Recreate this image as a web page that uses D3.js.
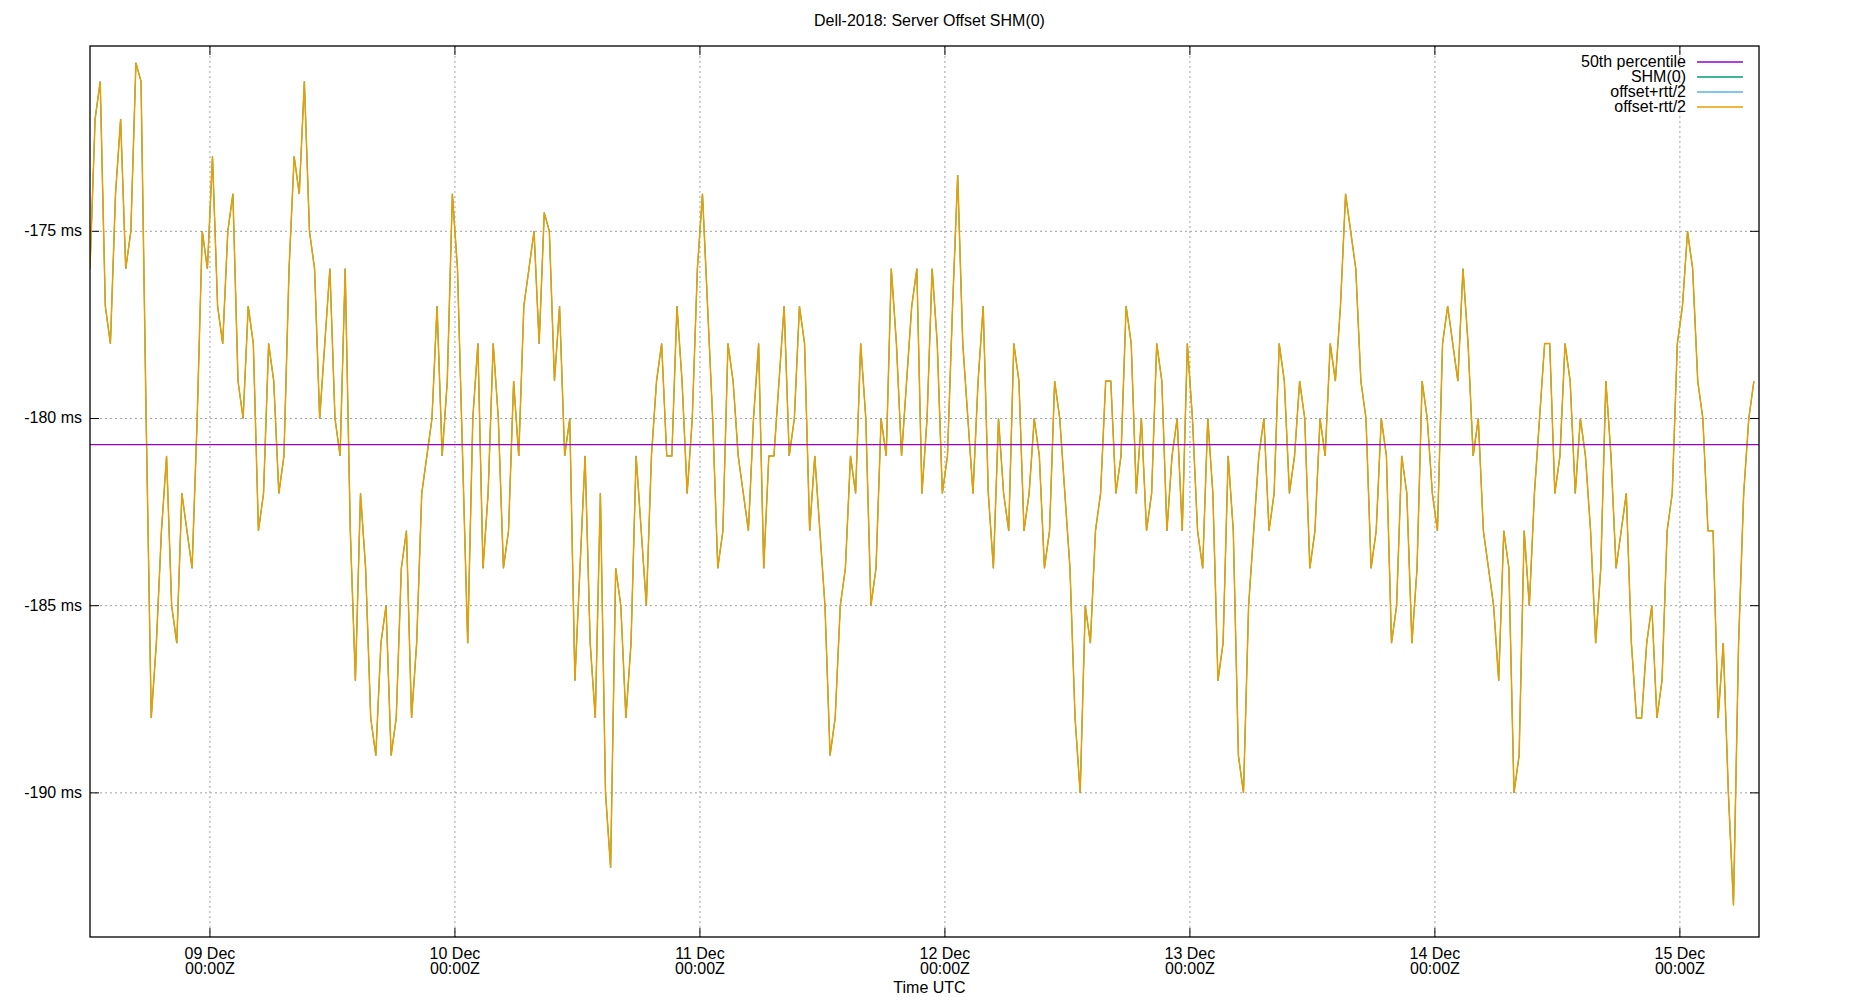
<!DOCTYPE html>
<html><head><meta charset="utf-8">
<script src="https://d3js.org/d3.v7.min.js"></script>
<style>body{margin:0;background:#fff}svg{font-family:"Liberation Sans",Arial,sans-serif}</style>
</head><body><svg id="c" width="1850" height="1000"></svg>
<script>
const title = "Dell-2018: Server Offset SHM(0)";
const startTime = "2018-12-08T12:15:00Z";
const stepMinutes = 60;
// values on the hour
const offsetValues = [
-176,-171,-178,-172,-175,-171,-188,-183,-185,-182,-184,-175,-173,-178,-174,
-180,-178,-182,-179,-181,-173,-171,-176,-178,-180,-176,-187,-184,-189,-185,-188,
-183,-186,-181,-177,-179,-176,-186,-178,-182,-180,-183,-181,-176,-178,-175,-177,-180,
-184,-186,-182,-192,-185,-186,-183,-181,-178,-181,-179,-180,-174,
-180,-183,-179,-182,-180,-184,-181,-177,-180,-178,-181,-185,-188,-184,
-182,-180,-184,-181,-178,-179,-176,-180,-178,-181,-173.5,-180,-179,-182,
-180,-183,-179,-182,-181,-183,-180,-184,-190,-186,-182,
-179,-181,-178,-180,-182,-179,-181,-183,-180,-184,-182,-186,-183,-190,-183,
-180,-182,-179,-181,-180,-183,-181,-179,-174,-176,-180,
-183,-181,-185,-182,-184,-180,-183,-177,-179,-178,-180,-184,
-187,-184,-189,-185,-180,-178,-181,-179,-180,-183,-184,-181,-183,-186,-188,
-185,-187,-182,-177,-176,-180,-183,-186,-193,-182,-179];
// values on the half hour
const halfHourValues = [
-172,-177,-174,-176,-170.5,-180,-186,-181,-186,-183,-180,-176,-177,-175,-179,
-177,-183,-178,-182,-176,-174,-175,-180,-176,-181,-183,-182,-188,-186,-189,-184,
-188,-182,-180,-181,-174,-181,-180,-184,-178,-184,-179,-177,-175,-174.5,-179,-181,-187,
-181,-188,-190,-184,-188,-181,-185,-179,-181,-177,-182,-176,-177,
-184,-178,-181,-183,-178,-181,-179,-181,-177,-183,-183,-189,-185,-181,
-178,-185,-180,-176,-181,-177,-182,-176,-182,-177,-178,-182,-177,-184,
-182,-178,-183,-180,-184,-179,-182,-188,-185,-183,-179,
-182,-177,-182,-183,-178,-183,-180,-178,-183,-180,-187,-181,-189,-185,-181,
-183,-178,-182,-179,-184,-180,-178,-177,-175,-179,-184,
-180,-186,-181,-186,-179,-182,-178,-178,-176,-181,-183,-185,
-183,-190,-183,-182,-178,-182,-178,-182,-181,-186,-179,-184,-182,-188,-186,
-188,-183,-178,-175,-179,-183,-188,-190,-186,-180];
const median = -180.7;
const xDomain = ["2018-12-08T12:15:00Z","2018-12-15T07:45:00Z"];
const yDomain = [-193.85,-170.05];
const yTicks = [-175,-180,-185,-190];
const xTicks = ["2018-12-09","2018-12-10","2018-12-11","2018-12-12","2018-12-13","2018-12-14","2018-12-15"];
const legendNames = ["50th percentile","SHM(0)","offset+rtt/2","offset-rtt/2"];
const colors = ["#9400d3","#009e73","#56b4e9","#e69f00"];

const L=90,R=1759,T=46,B=937,FS=16;
const svg=d3.select("#c");
const x=d3.scaleUtc().domain(xDomain.map(d=>new Date(d))).range([L,R]);
const y=d3.scaleLinear().domain(yDomain).range([B,T]);
const t0=new Date(startTime);
const data=[];
offsetValues.forEach((v,i)=>{
  data.push({t:d3.utcMinute.offset(t0,i*stepMinutes),v});
  if(i<halfHourValues.length) data.push({t:d3.utcMinute.offset(t0,i*stepMinutes+stepMinutes/2),v:halfHourValues[i]});
});

const g=svg.append("g");
xTicks.forEach(d=>{const dt=new Date(d+"T00:00:00Z"),xx=x(dt);
 g.append("line").attr("x1",xx).attr("x2",xx).attr("y1",T).attr("y2",B).attr("stroke","#a0a0a0").attr("stroke-dasharray","2,3");
 g.append("line").attr("x1",xx).attr("x2",xx).attr("y1",B).attr("y2",B-9).attr("stroke","#000");
 g.append("line").attr("x1",xx).attr("x2",xx).attr("y1",T).attr("y2",T+9).attr("stroke","#000");
 const tx=svg.append("text").attr("x",xx).attr("y",B+22).attr("text-anchor","middle").attr("font-size",FS);
 tx.append("tspan").attr("x",xx).text(d3.utcFormat("%d %b")(dt));
 tx.append("tspan").attr("x",xx).attr("dy",15).text("00:00Z");
});
yTicks.forEach(v=>{const yy=y(v);
 g.append("line").attr("x1",L).attr("x2",R).attr("y1",yy).attr("y2",yy).attr("stroke","#a0a0a0").attr("stroke-dasharray","2,3");
 g.append("line").attr("x1",L).attr("x2",L+9).attr("y1",yy).attr("y2",yy).attr("stroke","#000");
 g.append("line").attr("x1",R).attr("x2",R-9).attr("y1",yy).attr("y2",yy).attr("stroke","#000");
 svg.append("text").attr("x",L-8).attr("y",yy+5).attr("text-anchor","end").attr("font-size",FS).text(v+" ms");
});

svg.append("defs").append("clipPath").attr("id","cp").append("rect").attr("x",L).attr("y",T).attr("width",R-L).attr("height",B-T);
const line=d3.line().x(d=>x(d.t)).y(d=>y(d.v));
const pg=svg.append("g").attr("clip-path","url(#cp)");
[1,2,3].forEach(i=>pg.append("path").datum(data).attr("d",line).attr("fill","none").attr("stroke",colors[i]).attr("stroke-width",i==3?1.5:0.8));
pg.append("line").attr("x1",L).attr("x2",R).attr("y1",y(median)).attr("y2",y(median)).attr("stroke",colors[0]).attr("stroke-width",1.3);

svg.append("rect").attr("x",L).attr("y",T).attr("width",R-L).attr("height",B-T).attr("fill","none").attr("stroke","#000").attr("stroke-width",1.3);

svg.append("text").attr("x",(L+R)/2+5).attr("y",26).attr("text-anchor","middle").attr("font-size",FS).text(title);
svg.append("text").attr("x",(L+R)/2+5).attr("y",993).attr("text-anchor","middle").attr("font-size",FS).text("Time UTC");

legendNames.forEach((n,i)=>{const yy=62+i*15;
 svg.append("text").attr("x",1686).attr("y",yy+5).attr("text-anchor","end").attr("font-size",FS).text(n);
 svg.append("line").attr("x1",1697).attr("x2",1743).attr("y1",yy).attr("y2",yy).attr("stroke",colors[i]).attr("stroke-width",1.3);
});
</script></body></html>
